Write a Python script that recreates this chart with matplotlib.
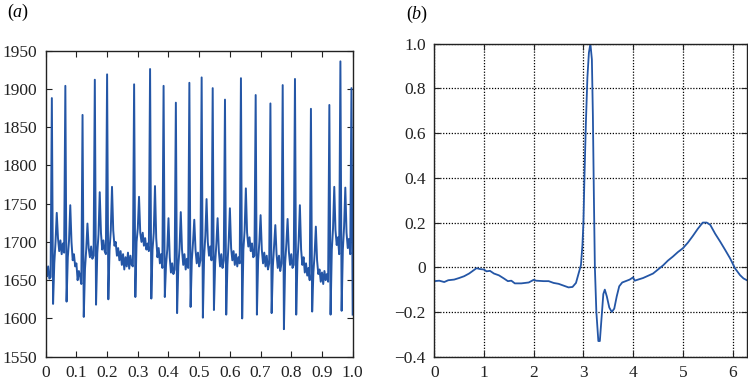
import numpy as np
import matplotlib.pyplot as plt

plt.rcParams['font.family'] = ['Liberation Serif', 'DejaVu Serif']
plt.rcParams['mathtext.fontset'] = 'custom'
plt.rcParams['mathtext.rm'] = 'Liberation Serif'
plt.rcParams['mathtext.it'] = 'Liberation Serif:italic'

# (a) raw ECG record (one sample per 0.004)
ecg_raw = [
    1662, 1655, 1668, 1652, 1654, 1888, 1619, 1672, 1700, 1738,
    1705, 1688, 1702, 1684, 1698, 1686, 1904, 1622, 1680, 1702,
    1748, 1700, 1676, 1684, 1668, 1672, 1650, 1662, 1655, 1645,
    1866, 1602, 1665, 1690, 1724, 1692, 1680, 1694, 1678, 1682,
    1912, 1618, 1685, 1710, 1765, 1712, 1690, 1702, 1688, 1684,
    1919, 1625, 1690, 1715, 1772, 1715, 1695, 1700, 1682, 1692,
    1676, 1688, 1670, 1684, 1664, 1680, 1668, 1686, 1665, 1682,
    1670, 1668, 1906, 1628, 1700, 1718, 1759, 1712, 1700, 1712,
    1695, 1705, 1690, 1698, 1688, 1926, 1626, 1690, 1712, 1773,
    1705, 1680, 1692, 1672, 1684, 1666, 1904, 1628, 1670, 1690,
    1731, 1680, 1660, 1672, 1658, 1664, 1882, 1607, 1668, 1692,
    1739, 1690, 1670, 1684, 1664, 1678, 1666, 1908, 1615, 1676,
    1700, 1729, 1690, 1672, 1686, 1668, 1676, 1915, 1601, 1680,
    1708, 1756, 1700, 1682, 1694, 1676, 1901, 1611, 1672, 1698,
    1731, 1688, 1668, 1684, 1666, 1676, 1886, 1605, 1670, 1700,
    1744, 1692, 1676, 1688, 1670, 1684, 1668, 1680, 1672, 1914,
    1600, 1690, 1715, 1770, 1712, 1694, 1706, 1688, 1698, 1680,
    1682, 1892, 1605, 1676, 1700, 1735, 1690, 1672, 1686, 1668,
    1682, 1664, 1672, 1881, 1607, 1668, 1694, 1722, 1684, 1666,
    1682, 1662, 1672, 1905, 1586, 1672, 1698, 1730, 1688, 1670,
    1684, 1666, 1670, 1913, 1605, 1674, 1702, 1748, 1690, 1670,
    1680, 1660, 1672, 1656, 1666, 1650, 1874, 1609, 1660, 1684,
    1720, 1676, 1658, 1664, 1648, 1660, 1645, 1662, 1650, 1658,
    1648, 1879, 1605, 1690, 1718, 1772, 1715, 1696, 1706, 1684,
    1936, 1610, 1690, 1720, 1771, 1712, 1692, 1704, 1684, 1901,
    1605,
]
t_raw = np.linspace(0, 1, len(ecg_raw))

# (b) averaged beat over one period
beat_x = [0.00, 0.10, 0.20, 0.28, 0.40, 0.50, 0.60, 0.70, 0.80, 0.85,
          0.92, 1.00, 1.05, 1.12, 1.20, 1.30, 1.40, 1.48, 1.55, 1.62,
          1.75, 1.90, 2.00, 2.05, 2.20, 2.30, 2.40, 2.50, 2.60, 2.70,
          2.78, 2.85, 2.90, 2.95, 2.98, 3.00, 3.02, 3.05, 3.08, 3.11,
          3.14, 3.17, 3.19, 3.21, 3.23, 3.26, 3.30, 3.33, 3.36, 3.40,
          3.43, 3.47, 3.52, 3.57, 3.62, 3.67, 3.72, 3.78, 3.85, 3.93,
          4.00, 4.03, 4.10, 4.20, 4.30, 4.40, 4.50, 4.60, 4.70, 4.80,
          4.90, 5.00, 5.10, 5.20, 5.30, 5.40, 5.48, 5.55, 5.65, 5.75,
          5.85, 5.95, 6.05, 6.15, 6.22, 6.28]
beat_y = [-0.062, -0.060, -0.066, -0.058, -0.055, -0.048, -0.040, -0.028, -0.012, -0.004,
          -0.008, -0.010, -0.018, -0.016, -0.028, -0.036, -0.050, -0.062, -0.060, -0.072,
          -0.072, -0.068, -0.056, -0.060, -0.062, -0.062, -0.070, -0.074, -0.082, -0.090,
          -0.088, -0.070, -0.030, 0.010, 0.100, 0.200, 0.400, 0.650, 0.850, 0.960,
          1.000, 0.930, 0.680, 0.320, 0.000, -0.200, -0.330, -0.330, -0.240, -0.120,
          -0.100, -0.130, -0.180, -0.200, -0.185, -0.130, -0.085, -0.068, -0.062, -0.055,
          -0.045, -0.060, -0.055, -0.048, -0.038, -0.028, -0.010, 0.008, 0.030, 0.048,
          0.068, 0.085, 0.110, 0.140, 0.172, 0.200, 0.200, 0.190, 0.150, 0.115,
          0.078, 0.040, -0.005, -0.035, -0.050, -0.057]

a_xticks = [0, 0.1, 0.2, 0.3, 0.4, 0.5, 0.6, 0.7, 0.8, 0.9, 1.0]
a_xlabels = ['0', '0.1', '0.2', '0.3', '0.4', '0.5', '0.6', '0.7', '0.8', '0.9', '1.0']
a_yticks = [1550, 1600, 1650, 1700, 1750, 1800, 1850, 1900, 1950]
b_xticks = [0, 1, 2, 3, 4, 5, 6]
b_yticks = [-0.4, -0.2, 0, 0.2, 0.4, 0.6, 0.8, 1.0]
b_ylabels = ['\u22120.4', '\u22120.2', '0', '0.2', '0.4', '0.6', '0.8', '1.0']

blue = '#2456a6'

fig = plt.figure(figsize=(7.48, 3.84), dpi=100)
ax1 = fig.add_axes([0.0611, 0.0711, 0.4104, 0.797])
ax2 = fig.add_axes([0.5806, 0.0711, 0.4176, 0.815])

ax1.plot(t_raw, ecg_raw, color=blue, lw=1.4)
ax1.set_xlim(0, 1)
ax1.set_ylim(1550, 1950)
ax1.set_xticks(a_xticks)
ax1.set_xticklabels(a_xlabels)
ax1.set_yticks(a_yticks)

ax2.plot(beat_x, beat_y, color=blue, lw=1.3)
ax2.set_xlim(0, 2 * np.pi)
ax2.set_ylim(-0.4, 1.0)
ax2.set_xticks(b_xticks)
ax2.set_yticks(b_yticks)
ax2.set_yticklabels(b_ylabels)
ax2.grid(True, color='black', linestyle=(0, (1, 1.3)), linewidth=0.9)

for ax in (ax1, ax2):
    ax.tick_params(direction='in', top=True, right=True, length=4,
                   labelsize=12.5, pad=6, colors='#222222')
    for s in ax.spines.values():
        s.set_linewidth(1.0)
        s.set_color('#222222')

fig.text(0.024, 0.968, r'($a$)', fontsize=13, ha='center', va='center')
fig.text(0.558, 0.963, r'($b$)', fontsize=13, ha='center', va='center')

fig.savefig('out.png', dpi=100)
